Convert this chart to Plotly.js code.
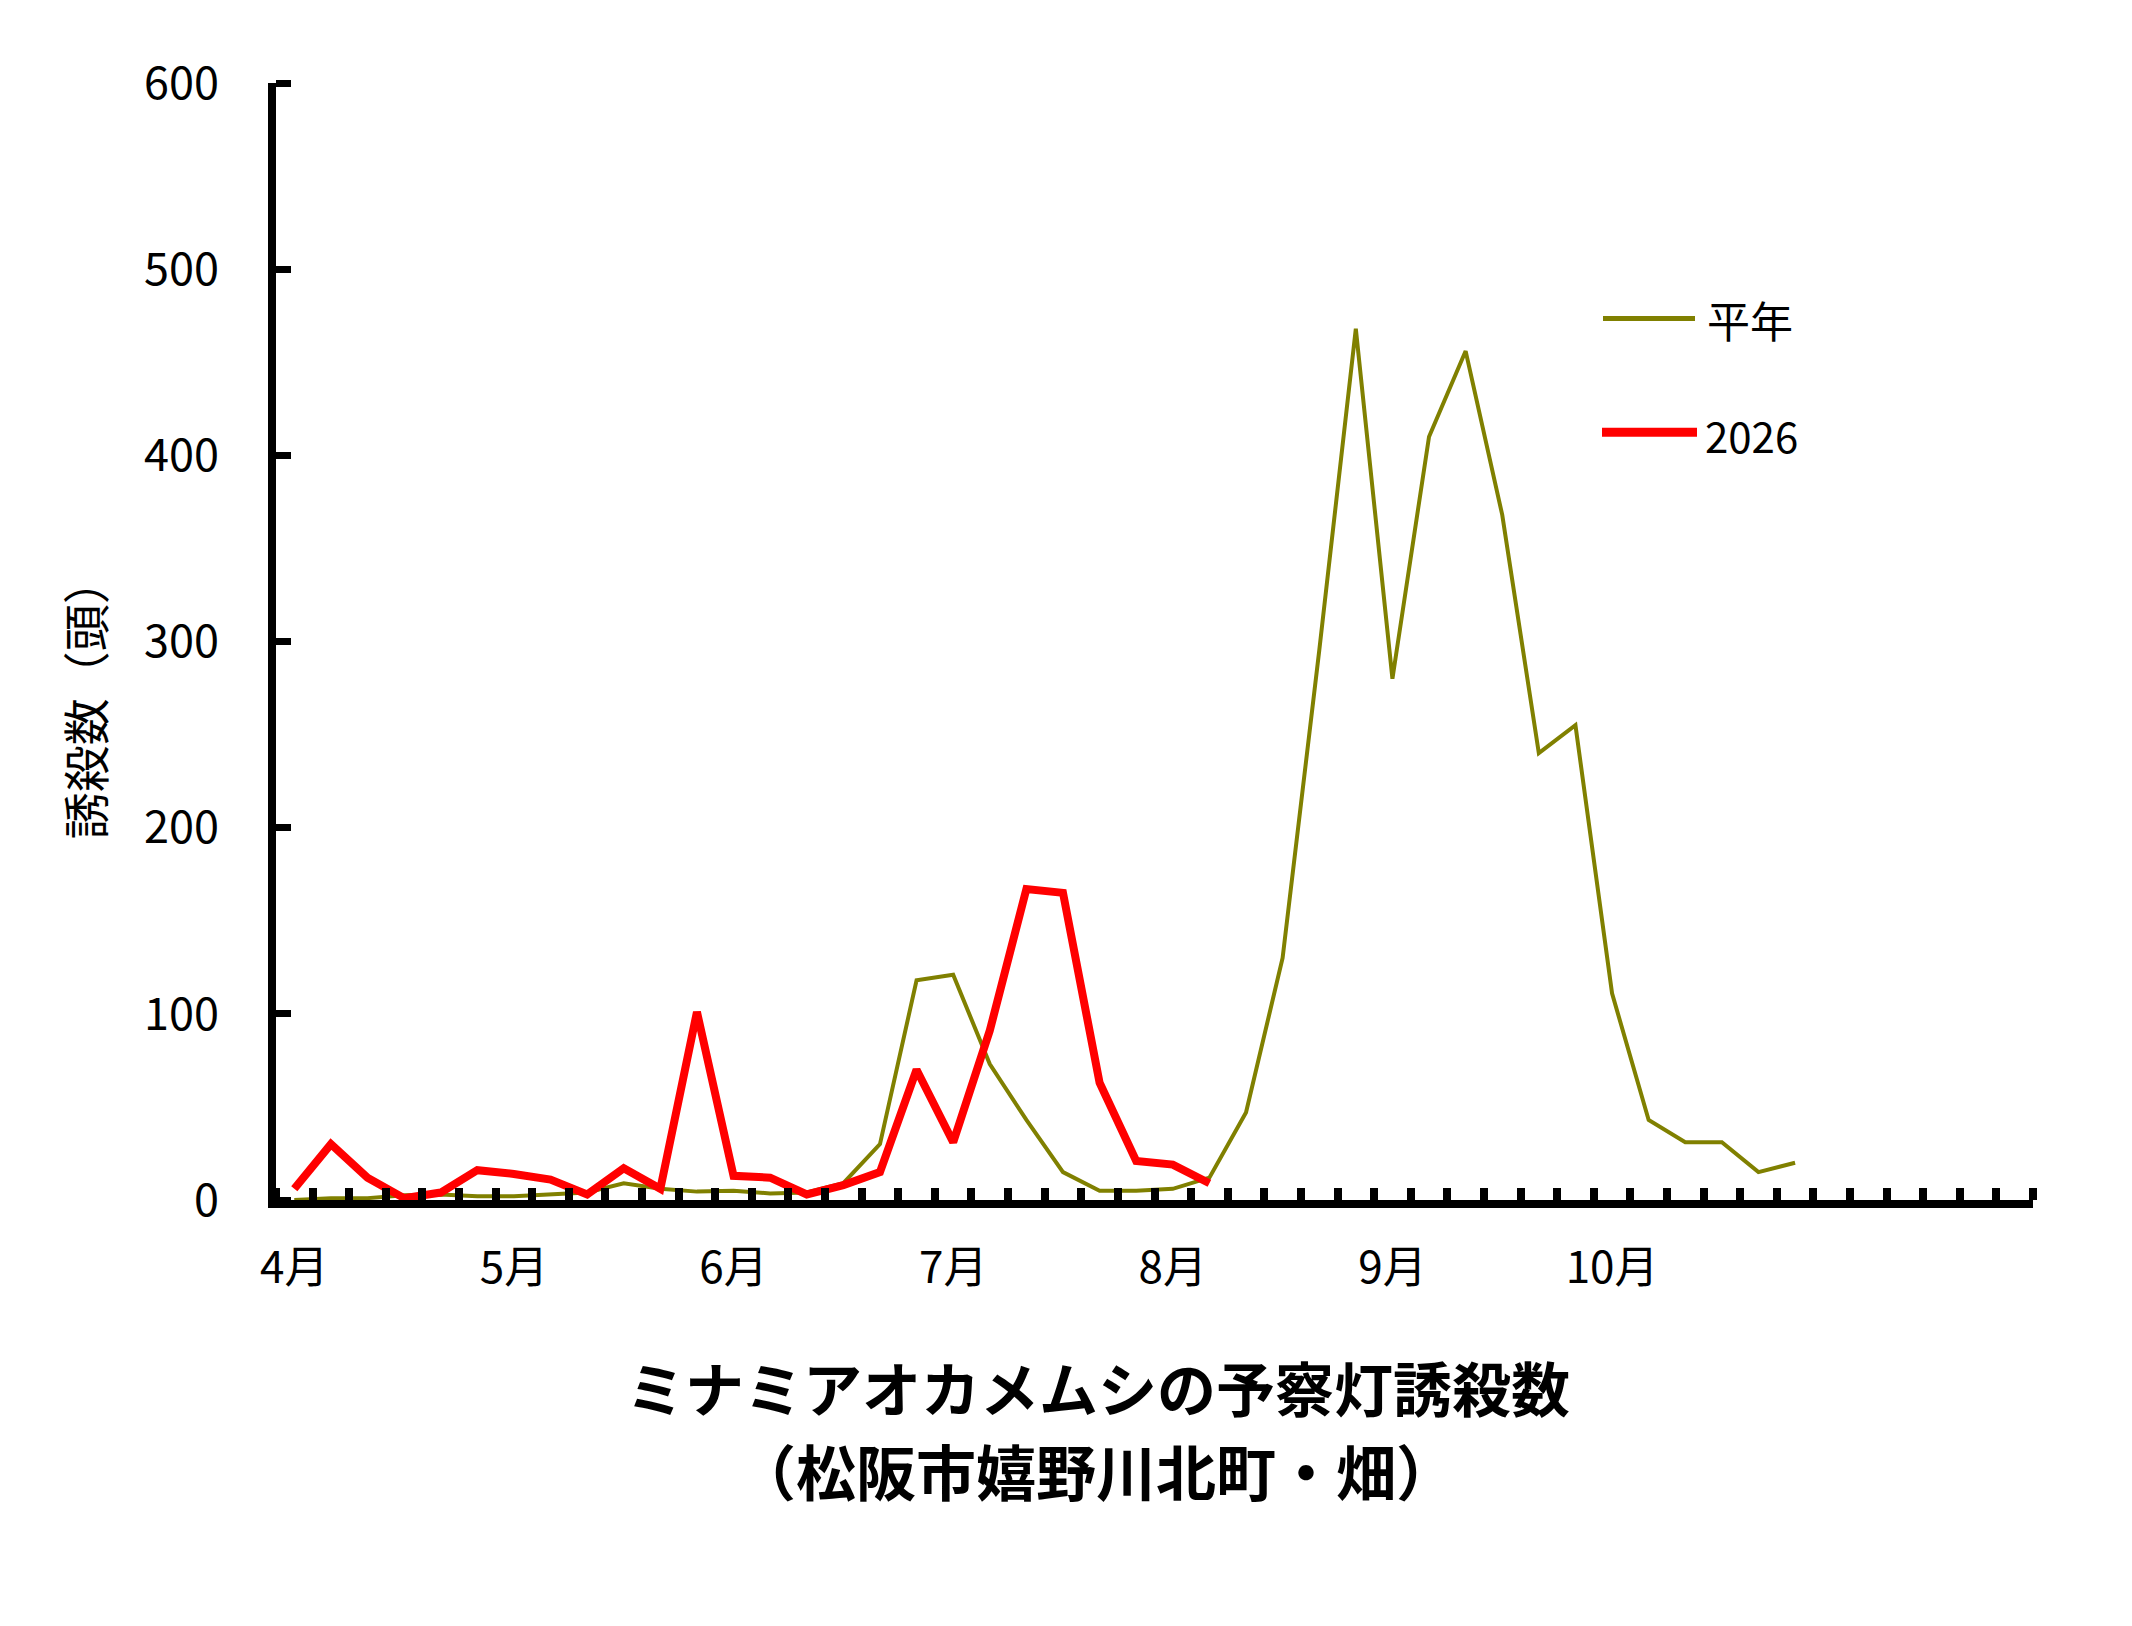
<!DOCTYPE html>
<html>
<head>
<meta charset="utf-8">
<script src="https://cdn.plot.ly/plotly-3.0.1.min.js"></script>
<style>
html,body{margin:0;padding:0;background:#fff;}
#chart{width:2132px;height:1626px;}
</style>
</head>
<body>
<div id="chart"></div>
<script>
// 半旬 (5-day periods), 6 per month, April to November
const months = ['4月','5月','6月','7月','8月','9月','10月','11月'];
const periodsPerMonth = 6;
const monthTickLabels = ['4月','5月','6月','7月','8月','9月','10月'];
const yTickValues = [0,100,200,300,400,500,600];

// 平年 (normal year) values, 4月1半旬 .. 10月6半旬
const heinen = [0,1,1,2.5,3,2, 2,3,4,9,6,4.5, 5,3.5,4,9,30,118, 121,73,43,15,5,5, 6,12,47,130,295,468, 280,410,456,368,240,255, 111,43,31,31,15,20];
// 2026 values, 4月1半旬 .. 8月2半旬
const y2026 = [6,30,12,1,4,16, 14,11,3,17,6,101, 13,12,3,8,15,70, 31,91,167,165,63,21, 19,9];

const nPeriods = months.length * periodsPerMonth;
const idx = arr => arr.map((_, i) => i);
const tickVals = monthTickLabels.map((_, i) => i * periodsPerMonth);

const FONT = '"Noto Sans CJK JP", "Noto Sans", sans-serif';

// pixel helpers for paper coordinates
const L = 276, R = 2033, T = 82.5, B = 1200;
const px = x => (x - L) / (R - L);
const py = y => (B - y) / (B - T);

const traces = [
  {x: idx(heinen), y: heinen, type: 'scatter', mode: 'lines', name: '平年',
   line: {color: '#808000', width: 4}, showlegend: false},
  {x: idx(y2026), y: y2026, type: 'scatter', mode: 'lines', name: '2026', yaxis: 'y2',
   line: {color: '#FF0000', width: 8}, showlegend: false}
];

const yRange = [0, 600];

const layout = {
  width: 2132, height: 1626,
  margin: {l: L, r: 2132 - R, t: T, b: 1626 - B, pad: 0},
  paper_bgcolor: '#fff', plot_bgcolor: 'rgba(0,0,0,0)',
  font: {family: FONT, color: '#000', size: 44},
  showlegend: false,
  xaxis: {
    range: [-0.5, nPeriods - 0.5],
    tickmode: 'array', tickvals: tickVals, ticktext: monthTickLabels,
    ticks: '', showgrid: false, zeroline: false,
    showline: true, linecolor: '#000', linewidth: 8,
    tickfont: {family: FONT, size: 44, color: '#000'},
    ticklabelstandoff: 22,
    minor: {tickmode: 'linear', tick0: 0.5, dtick: 1, ticks: 'inside',
            ticklen: 12, tickwidth: 8, tickcolor: '#000', showgrid: false}
  },
  yaxis: {
    range: yRange, tickmode: 'array', tickvals: yTickValues,
    ticktext: yTickValues.map(String),
    ticks: '', showgrid: false, zeroline: false,
    showline: true, linecolor: '#000', linewidth: 8,
    tickfont: {family: FONT, size: 45, color: '#000'},
    ticklabelstandoff: 40
  },
  yaxis2: {
    overlaying: 'y', side: 'left', anchor: 'x',
    range: yRange, tickmode: 'array', tickvals: [-1000], ticks: '',
    showticklabels: false, showgrid: false, zeroline: false, showline: false,
    minor: {tickmode: 'linear', tick0: 0, dtick: 100, ticks: 'inside',
            ticklen: 15, tickwidth: 7, tickcolor: '#000', showgrid: false}
  },
  shapes: [
    {type: 'line', xref: 'paper', yref: 'paper', x0: px(1603), x1: px(1695), y0: py(318), y1: py(318),
     line: {color: '#808000', width: 5}},
    {type: 'line', xref: 'paper', yref: 'paper', x0: px(1602), x1: px(1697), y0: py(432), y1: py(432),
     line: {color: '#FF0000', width: 9}}
  ],
  annotations: [
    {text: '平年', xref: 'paper', yref: 'paper', x: px(1705), y: py(319), xanchor: 'left', yanchor: 'middle',
     showarrow: false, font: {family: FONT, size: 43, color: '#000'}},
    {text: '2026', xref: 'paper', yref: 'paper', x: px(1703), y: py(434), xanchor: 'left', yanchor: 'middle',
     showarrow: false, font: {family: FONT, size: 42, color: '#000'}},
    {text: '誘殺数（頭）', xref: 'paper', yref: 'paper', x: px(83), y: py(698), xanchor: 'center', yanchor: 'middle',
     textangle: -90, showarrow: false, font: {family: FONT, size: 47, color: '#000'}},
    {text: 'ミナミアオカメムシの予察灯誘殺数', xref: 'paper', yref: 'paper', x: px(1098), y: py(1387),
     xanchor: 'center', yanchor: 'middle', showarrow: false,
     font: {family: FONT, size: 59, color: '#000', weight: 700}},
    {text: '（松阪市嬉野川北町・畑）', xref: 'paper', yref: 'paper', x: px(1096), y: py(1470),
     xanchor: 'center', yanchor: 'middle', showarrow: false,
     font: {family: FONT, size: 60, color: '#000', weight: 700}}
  ]
};

Plotly.newPlot('chart', traces, layout, {staticPlot: true, displayModeBar: false});
</script>
</body>
</html>
